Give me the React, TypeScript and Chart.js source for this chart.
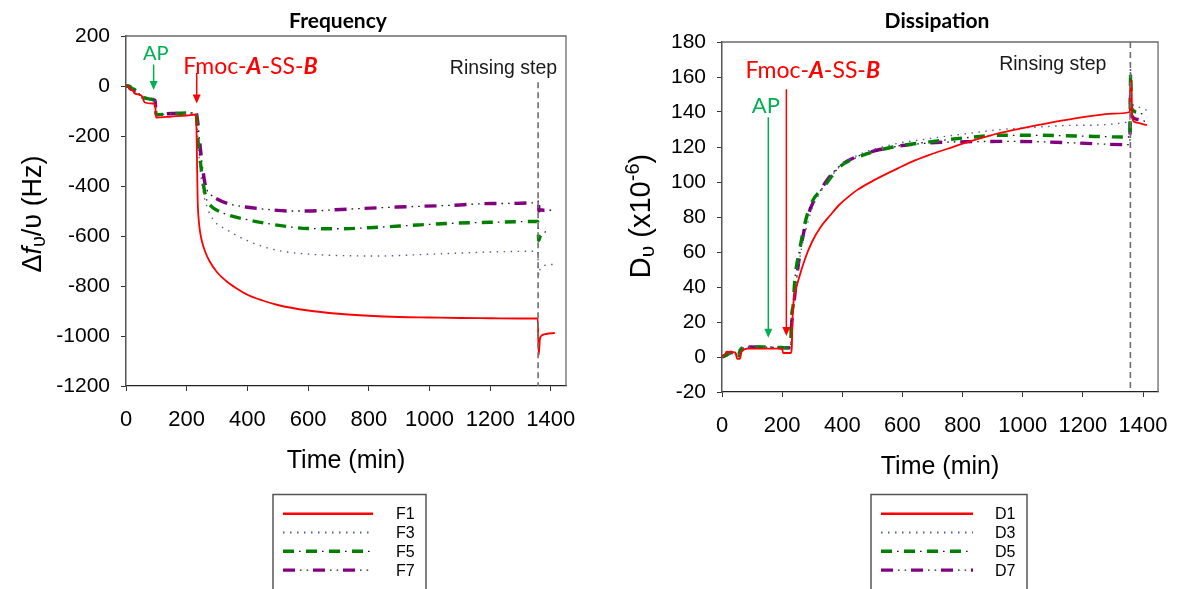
import React, { useEffect, useRef } from "react";
import { Chart, registerables } from "chart.js";

Chart.register(...registerables);

// ---------------- Frequency data (time in min, Δf/υ in Hz) ----------------
const F1_T = [0, 12, 14, 25, 27, 42, 55, 58, 62, 90, 96, 99, 150, 200, 231, 234, 236, 240, 245, 250, 260, 275, 300, 330, 365, 400, 450, 500, 600, 700, 800, 900, 1000, 1100, 1200, 1300, 1357, 1360, 1364, 1370, 1385, 1413];
const F1_V = [0, -6, -14, -20, -28, -34, -45, -58, -66, -70, -74, -126, -122, -118, -114, -300, -450, -540, -590, -620, -660, -700, -745, -780, -810, -835, -858, -876, -898, -911, -919, -924, -926, -928, -929, -930, -930, -1076, -1012, -998, -992, -988];

const F3_T = [0, 15, 18, 30, 33, 45, 48, 62, 90, 96, 99, 150, 200, 231, 236, 242, 250, 260, 285, 335, 397, 459, 520, 597, 700, 831, 1000, 1200, 1357, 1360, 1364, 1372, 1390, 1412];
const F3_V = [0, -4, -12, -18, -30, -35, -45, -50, -56, -60, -114, -111, -109, -108, -200, -300, -390, -455, -530, -577, -617, -645, -662, -672, -678, -680, -673, -664, -661, -757, -735, -722, -716, -713];

const F5_T = [0, 15, 18, 30, 33, 45, 48, 62, 90, 96, 99, 150, 200, 231, 236, 250, 262, 280, 300, 335, 400, 460, 530, 600, 700, 830, 960, 1080, 1200, 1357, 1360, 1365, 1372, 1381, 1401];
const F5_V = [0, -3, -10, -16, -28, -32, -42, -48, -54, -57, -115, -111, -108, -107, -200, -350, -440, -480, -497, -515, -535, -549, -562, -570, -571, -565, -556, -549, -545, -542, -617, -600, -590, -584, -581];

const F7_T = [0, 10, 13, 25, 28, 42, 45, 62, 90, 96, 99, 150, 200, 231, 236, 245, 255, 262, 280, 300, 335, 400, 460, 534, 600, 707, 894, 1080, 1204, 1357, 1359, 1361, 1365, 1378, 1412];
const F7_V = [0, -2, -10, -14, -20, -26, -40, -45, -55, -58, -114, -110, -109, -108, -140, -250, -350, -400, -435, -452, -470, -485, -493, -500, -500, -494, -484, -477, -470, -466, -458, -500, -495, -497, -497];

// ---------------- Dissipation data (time in min, D in 1e-6) ----------------
const D1_T = [0, 12, 15, 45, 50, 60, 65, 85, 200, 203, 229, 232, 234, 237, 245, 254, 278, 300, 327, 360, 390, 420, 450, 500, 569, 630, 690, 750, 811, 870, 932, 1000, 1053, 1110, 1174, 1250, 1300, 1356, 1359, 1361, 1364, 1370, 1390, 1413];
const D1_V = [0, 2, 3, 2.5, -1, -1, 3, 4.8, 4.8, 2.3, 2.3, 5, 20, 30, 38, 44, 57, 66, 74, 81, 87, 91.5, 95.5, 100.5, 106.5, 111.5, 115.5, 119, 122.5, 125.5, 128.3, 130.8, 132.6, 134.5, 136.4, 138.2, 139.1, 140, 158, 156, 137, 134.5, 133.5, 132.5];

const D3_T = [0, 15, 35, 48, 55, 60, 85, 150, 200, 229, 232, 236, 245, 260, 278, 302, 327, 351, 387, 448, 569, 690, 811, 932, 1053, 1174, 1356, 1358, 1361, 1364, 1380, 1413];
const D3_V = [0, 1, 2.5, 1, 0, 3, 5.5, 5.8, 5.5, 5.5, 8, 25, 40, 58, 72, 86, 94, 100, 108, 115, 121.5, 124.8, 127.6, 130, 131.4, 132.4, 134.5, 168, 150, 145, 143, 141];

const D5_T = [0, 15, 35, 48, 55, 60, 85, 150, 200, 229, 230, 236, 242, 260, 278, 302, 327, 351, 387, 448, 569, 690, 811, 932, 1053, 1174, 1356, 1359, 1362, 1381, 1413];
const D5_V = [0, 1, 3, 1.5, -1, 4, 5.7, 5.7, 5.4, 5.3, 19, 28.6, 43.8, 63, 78, 89.5, 95, 100, 108, 114, 120, 122.9, 125.3, 126.7, 126.7, 126.3, 125.7, 163, 142, 140, 137];

const D7_T = [0, 12, 30, 50, 58, 62, 85, 150, 200, 229, 230, 236, 254, 278, 302, 327, 345, 387, 448, 569, 690, 811, 932, 1053, 1174, 1356, 1359, 1362, 1381, 1413];
const D7_V = [0, 1, 2.5, 2, 3, 4, 5.7, 5.6, 5.3, 5.2, 13, 25, 53, 76, 88, 95, 100, 108.5, 114.5, 120, 122.3, 123, 123.2, 123, 122.3, 121.3, 150.7, 138, 135.8, 134.3];

// ---------------- Axes ----------------
const X_TICKS = [0, 200, 400, 600, 800, 1000, 1200, 1400];
const X_MIN = 0;
const X_MAX = 1450;
const FREQ_Y_TICKS = [-1200, -1000, -800, -600, -400, -200, 0, 200];
const DISS_Y_TICKS = [-20, 0, 20, 40, 60, 80, 100, 120, 140, 160, 180];
const RINSE_T = 1358;

const FREQ_LABELS = ["F1", "F3", "F5", "F7"];
const DISS_LABELS = ["D1", "D3", "D5", "D7"];

// ---------------- Styles ----------------
const ARIAL = '"Liberation Sans", Arial, sans-serif';
const CAL = 'Lato, "Liberation Sans", sans-serif';
const RED = "#FF0000";
const GREEN_ANN = "#00B050";

type Style = { color: string; width: number; dash: number[]; dots?: number[] };
const STYLES: Style[] = [
  { color: "#FF0000", width: 1.8, dash: [] },
  { color: "#5858a6", width: 1.4, dash: [1.5, 5.5] },
  { color: "#008000", width: 3.4, dash: [11, 12], dots: [0, 16, 1.6, 5.4] },
  { color: "#800080", width: 3.4, dash: [12, 18], dots: [0, 17, 1.6, 5, 1.6, 4.8] },
];

type Seg = { text: string; font: string; dy?: number };

function richWidth(ctx: CanvasRenderingContext2D, segs: Seg[]) {
  let w = 0;
  for (const s of segs) {
    ctx.font = s.font;
    w += ctx.measureText(s.text).width;
  }
  return w;
}
function drawRich(ctx: CanvasRenderingContext2D, segs: Seg[], cx: number, baseline: number, color: string) {
  const w = richWidth(ctx, segs);
  let x = cx - w / 2;
  ctx.fillStyle = color;
  ctx.textAlign = "left";
  ctx.textBaseline = "alphabetic";
  for (const s of segs) {
    ctx.font = s.font;
    ctx.fillText(s.text, x, baseline + (s.dy || 0));
    x += ctx.measureText(s.text).width;
  }
}
function arrow(ctx: CanvasRenderingContext2D, x: number, yTop: number, yTip: number, color: string, lw: number) {
  const hl = 9, hw = 4;
  ctx.save();
  ctx.strokeStyle = color;
  ctx.fillStyle = color;
  ctx.lineWidth = lw;
  ctx.setLineDash([]);
  ctx.beginPath();
  ctx.moveTo(x, yTop);
  ctx.lineTo(x, yTip - hl + 1);
  ctx.stroke();
  ctx.beginPath();
  ctx.moveTo(x - hw, yTip - hl);
  ctx.lineTo(x + hw, yTip - hl);
  ctx.lineTo(x, yTip);
  ctx.closePath();
  ctx.fill();
  ctx.restore();
}

function fmocSegs(size: number): Seg[] {
  return [
    { text: "Fmoc-", font: `${size}px ${CAL}` },
    { text: "A", font: `italic bold ${size}px ${CAL}` },
    { text: "-SS-", font: `${size}px ${CAL}` },
    { text: "B", font: `italic bold ${size}px ${CAL}` },
  ];
}

type Ann = {
  title: string; titleX: number;
  yTitle: Seg[]; yTitleX: number; yTitleShift: number;
  ap: { t: number; v: number; size: number };
  apArrow: { t: number; from: number; to: number };
  fmoc: { t: number; v: number; size: number };
  fmocArrow: { t: number; from: number; to: number };
  rinse: { t: number; v: number; size: number };
  rinseLine: { from: number; to: number };
  legendX: number; legendW: number; lineX1: number; lineX2: number; labelX: number;
};

interface ChartSpec {
  series: { label: string; t: number[]; v: number[]; style: Style }[];
  yTicks: number[];
  plot: { l: number; r: number; t: number; b: number };
  ann: Ann;
}

const W = 592;
const H = 589;

function buildChart(canvas: HTMLCanvasElement, spec: ChartSpec) {
  const datasets: any[] = [];
  spec.series.forEach((s) => {
    const data = s.t.map((t, i) => ({ x: t, y: s.v[i] }));
    datasets.push({
      label: s.label, data, borderColor: s.style.color, borderWidth: s.style.width,
      borderDash: s.style.dash, pointRadius: 0, cubicInterpolationMode: "monotone", fill: false,
    });
    if (s.style.dots) {
      datasets.push({
        label: s.label + "-dots", data, borderColor: "#1a1a1a", borderWidth: 1.3,
        borderDash: s.style.dots, pointRadius: 0, cubicInterpolationMode: "monotone", fill: false,
      });
    }
  });
  const { plot, ann } = spec;
  const yMin = spec.yTicks[0];
  const yMax = spec.yTicks[spec.yTicks.length - 1];

  const annotationPlugin = {
    id: "annotations",
    afterDraw(chart: any) {
      const ctx: CanvasRenderingContext2D = chart.ctx;
      const xs = chart.scales.x;
      const ys = chart.scales.y;
      const ca = chart.chartArea;
      ctx.save();
      // top/right frame
      ctx.strokeStyle = "#6a6a6a";
      ctx.lineWidth = 1.3;
      ctx.beginPath();
      ctx.moveTo(ca.left, ca.top);
      ctx.lineTo(ca.right, ca.top);
      ctx.lineTo(ca.right, ca.bottom);
      ctx.stroke();

      // rinse line
      const rx = xs.getPixelForValue(RINSE_T);
      ctx.strokeStyle = "#6e6e6e";
      ctx.lineWidth = 1.6;
      ctx.setLineDash([6, 4]);
      ctx.beginPath();
      ctx.moveTo(rx, ys.getPixelForValue(ann.rinseLine.from));
      ctx.lineTo(rx, ys.getPixelForValue(ann.rinseLine.to));
      ctx.stroke();
      ctx.setLineDash([]);

      // rinse text
      drawRich(ctx, [{ text: "Rinsing step", font: `${ann.rinse.size}px ${ARIAL}` }],
        xs.getPixelForValue(ann.rinse.t), ys.getPixelForValue(ann.rinse.v) + ann.rinse.size * 0.36, "#1a1a1a");

      // AP
      drawRich(ctx, [{ text: "AP", font: `${ann.ap.size}px ${CAL}` }],
        xs.getPixelForValue(ann.ap.t), ys.getPixelForValue(ann.ap.v) + ann.ap.size * 0.36, GREEN_ANN);
      arrow(ctx, xs.getPixelForValue(ann.apArrow.t), ys.getPixelForValue(ann.apArrow.from),
        ys.getPixelForValue(ann.apArrow.to), GREEN_ANN, 1.5);

      // Fmoc
      drawRich(ctx, fmocSegs(ann.fmoc.size), xs.getPixelForValue(ann.fmoc.t),
        ys.getPixelForValue(ann.fmoc.v) + ann.fmoc.size * 0.36, RED);
      arrow(ctx, xs.getPixelForValue(ann.fmocArrow.t), ys.getPixelForValue(ann.fmocArrow.from),
        ys.getPixelForValue(ann.fmocArrow.to), RED, 1.5);

      // title
      drawRich(ctx, [{ text: ann.title, font: `bold 21px ${CAL}` }], ann.titleX, 28, "#000");

      // x title
      drawRich(ctx, [{ text: "Time (min)", font: `25px ${ARIAL}` }], (ca.left + ca.right) / 2, ca.bottom + 82, "#000");

      // y title
      ctx.save();
      ctx.translate(ann.yTitleX, (ca.top + ca.bottom) / 2 + ann.yTitleShift);
      ctx.rotate(-Math.PI / 2);
      drawRich(ctx, ann.yTitle, 0, 10, "#000");
      ctx.restore();

      // legend
      const ly = 494.5;
      ctx.strokeStyle = "#555";
      ctx.lineWidth = 1.5;
      ctx.strokeRect(ann.legendX, ly, ann.legendW, 140);
      spec.series.forEach((s, i) => {
        const y = 513.7 + i * 18.8;
        const drawLine = (color: string, width: number, dash: number[]) => {
          ctx.strokeStyle = color;
          ctx.lineWidth = width;
          ctx.setLineDash(dash);
          ctx.beginPath();
          ctx.moveTo(ann.lineX1, y);
          ctx.lineTo(ann.lineX2, y);
          ctx.stroke();
        };
        drawLine(s.style.color, s.style.width + (s.style.dots ? 0 : 0.6), s.style.dash);
        if (s.style.dots) drawLine("#1a1a1a", 1.3, s.style.dots);
        ctx.setLineDash([]);
        ctx.fillStyle = "#000";
        ctx.font = `16px ${ARIAL}`;
        ctx.textAlign = "left";
        ctx.textBaseline = "middle";
        ctx.fillText(s.label, ann.labelX, y + 1);
      });
      ctx.restore();
    },
  };

  return new Chart(canvas, {
    type: "line",
    data: { datasets },
    plugins: [annotationPlugin],
    options: {
      responsive: false,
      animation: false,
      events: [],
      layout: { padding: { left: 0, top: plot.t, right: W - plot.r, bottom: 0 } },
      plugins: { legend: { display: false }, tooltip: { enabled: false }, title: { display: false } },
      scales: {
        x: {
          type: "linear", min: X_MIN, max: X_MAX,
          afterBuildTicks: (s: any) => { s.ticks = X_TICKS.map((v) => ({ value: v })); },
          afterFit: (s: any) => { s.height = H - plot.b; },
          grid: { display: true, drawOnChartArea: false, drawTicks: true, tickLength: 5, color: "#333" },
          border: { display: true, color: "#222", width: 1.3 },
          ticks: {
            font: { family: ARIAL, size: 22 }, color: "#000", padding: 16, autoSkip: false, maxRotation: 0,
            callback: (v: any) => String(v),
          },
        },
        y: {
          type: "linear", min: yMin, max: yMax,
          afterBuildTicks: (s: any) => { s.ticks = spec.yTicks.map((v) => ({ value: v })); },
          afterFit: (s: any) => { s.width = plot.l; },
          grid: { display: true, drawOnChartArea: false, drawTicks: true, tickLength: 5, color: "#333" },
          border: { display: true, color: "#555", width: 1.5 },
          ticks: { font: { family: ARIAL, size: 21 }, color: "#000", padding: 11, callback: (v: any) => String(v) },
        },
      },
    } as any,
  });
}

const upsilon = "\u03C5";

const FREQ_SPEC: ChartSpec = {
  series: [
    { label: FREQ_LABELS[0], t: F1_T, v: F1_V, style: STYLES[0] },
    { label: FREQ_LABELS[1], t: F3_T, v: F3_V, style: STYLES[1] },
    { label: FREQ_LABELS[2], t: F5_T, v: F5_V, style: STYLES[2] },
    { label: FREQ_LABELS[3], t: F7_T, v: F7_V, style: STYLES[3] },
  ],
  yTicks: FREQ_Y_TICKS,
  plot: { l: 126, r: 572, t: 36, b: 386 },
  ann: {
    title: "Frequency", titleX: 338,
    yTitle: [
      { text: "\u0394", font: `27px ${ARIAL}` },
      { text: "f", font: `italic 27px ${ARIAL}` },
      { text: upsilon, font: `20px ${ARIAL}`, dy: 4 },
      { text: "/" + upsilon + " (Hz)", font: `27px ${ARIAL}` },
    ],
    yTitleX: 31, yTitleShift: 3,
    ap: { t: 98, v: 131, size: 20 },
    apArrow: { t: 91, from: 86, to: -16 },
    fmoc: { t: 410, v: 83, size: 23 },
    fmocArrow: { t: 233, from: 52, to: -70 },
    rinse: { t: 1244, v: 75, size: 19.5 },
    rinseLine: { from: 15, to: -1200 },
    legendX: 273, legendW: 153, lineX1: 283, lineX2: 373, labelX: 396,
  },
};

const DISS_SPEC: ChartSpec = {
  series: [
    { label: DISS_LABELS[0], t: D1_T, v: D1_V, style: STYLES[0] },
    { label: DISS_LABELS[1], t: D3_T, v: D3_V, style: STYLES[1] },
    { label: DISS_LABELS[2], t: D5_T, v: D5_V, style: STYLES[2] },
    { label: DISS_LABELS[3], t: D7_T, v: D7_V, style: STYLES[3] },
  ],
  yTicks: DISS_Y_TICKS,
  plot: { l: 130, r: 577, t: 42, b: 392 },
  ann: {
    title: "Dissipation", titleX: 345,
    yTitle: [
      { text: "D", font: `29px ${ARIAL}` },
      { text: upsilon, font: `21px ${ARIAL}`, dy: 4 },
      { text: " (x10", font: `29px ${ARIAL}` },
      { text: "-6", font: `20px ${ARIAL}`, dy: -11 },
      { text: ")", font: `29px ${ARIAL}` },
    ],
    yTitleX: 48, yTitleShift: -1,
    ap: { t: 146, v: 144, size: 22 },
    apArrow: { t: 154, from: 137, to: 11 },
    fmoc: { t: 302, v: 164, size: 23 },
    fmocArrow: { t: 214, from: 153, to: 12 },
    rinse: { t: 1100, v: 168, size: 19.5 },
    rinseLine: { from: 180, to: -20 },
    legendX: 279, legendW: 156, lineX1: 289, lineX2: 381, labelX: 403,
  },
};

export default function App() {
  const leftRef = useRef<HTMLCanvasElement>(null);
  const rightRef = useRef<HTMLCanvasElement>(null);

  useEffect(() => {
    const c1 = buildChart(leftRef.current!, FREQ_SPEC);
    const c2 = buildChart(rightRef.current!, DISS_SPEC);
    return () => {
      c1.destroy();
      c2.destroy();
    };
  }, []);

  return (
    <div style={{ position: "absolute", left: 0, top: 0, width: 1184, height: 589, background: "#fff", overflow: "hidden" }}>
      <canvas ref={leftRef} width={W} height={H} style={{ position: "absolute", left: 0, top: 0, width: W, height: H }} />
      <canvas ref={rightRef} width={W} height={H} style={{ position: "absolute", left: 592, top: 0, width: W, height: H }} />
    </div>
  );
}
